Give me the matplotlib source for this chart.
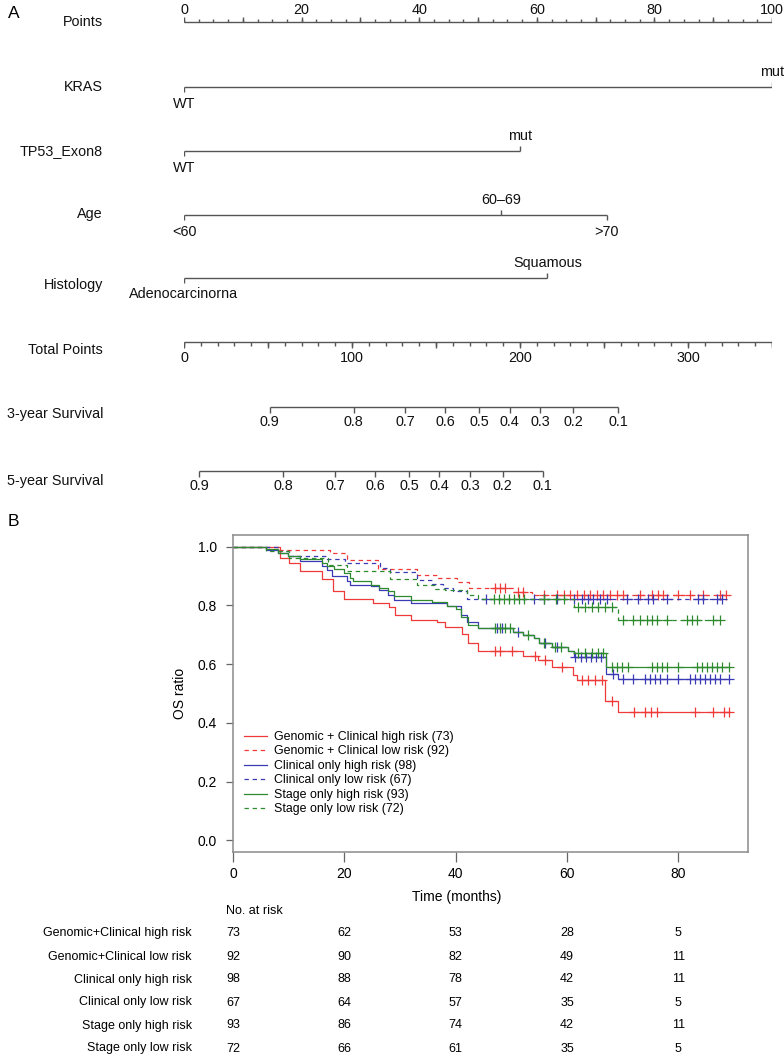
import numpy as np
import matplotlib
matplotlib.use("Agg")
import matplotlib.pyplot as plt
from matplotlib import transforms

plt.rcParams['font.family'] = ['Liberation Sans', 'DejaVu Sans']

W, H, DPI = 784, 1056, 100

# ---------------- Panel A: nomogram data ----------------
points_labels = [0, 20, 40, 60, 80, 100]
points_minor = np.arange(0, 100.01, 2.5)
points_major = np.arange(0, 100.01, 10)

kras_levels = ["WT", "mut"]
kras_points = [0, 100]
tp53_levels = ["WT", "mut"]
tp53_points = [0, 57.1]
age_levels = ["<60", "60\u201369", ">70"]
age_points = [0, 53.9, 71.9]
hist_levels = ["Adenocarcinorna", "Squamous"]
hist_points = [0, 61.8]

total_labels = [0, 100, 200, 300]
total_max = 350
surv_probs = [0.9, 0.8, 0.7, 0.6, 0.5, 0.4, 0.3, 0.2, 0.1]
surv3_total = [50.9, 100.9, 131.5, 155.4, 175.6, 193.8, 212.2, 231.5, 258.6]
surv5_total = [9.2, 59.2, 89.9, 113.7, 134.2, 152.0, 170.5, 189.6, 213.4]

# ---------------- Panel B: KM data (months, survival) ----------------
gc_high_t = [8.4, 10.1, 12.0, 16.0, 18.0, 19.9, 25.2, 28.0, 29.1, 32.0, 36.7, 38.1, 41.2, 42.2, 44.0,
             52.1, 54.8, 57.3, 61.1, 61.8, 66.8, 69.1]
gc_high_s = [0.962, 0.945, 0.918, 0.89, 0.85, 0.822, 0.808, 0.795, 0.768, 0.752, 0.742, 0.728, 0.703, 0.673, 0.646,
             0.628, 0.614, 0.589, 0.562, 0.545, 0.476, 0.437]
gc_high_c = [47.1, 48.0, 50.1, 54.3, 56.0, 59.1, 62.6, 63.8, 65.0, 66.3, 68.0, 72.1, 74.0, 75.1, 76.1,
             83.0, 86.2, 88.1, 89.0]

gc_low_t = [8.1, 17.4, 20.4, 26.1, 33.0, 36.6, 40.2, 42.3, 50.3, 53.7]
gc_low_s = [0.99, 0.978, 0.956, 0.925, 0.904, 0.892, 0.881, 0.858, 0.847, 0.836]
gc_low_c = [47.1, 48.0, 48.9, 51.2, 52.1, 55.8, 58.2, 59.4, 60.6, 61.8, 63.0, 64.2, 65.4, 66.5, 67.7, 68.9,
            70.1, 73.1, 75.2, 76.4, 77.3, 80.0, 82.1, 84.5, 87.5, 88.5]

cl_high_t = [5.9, 8.1, 9.9, 12.0, 16.0, 16.9, 17.8, 20.4, 21.0, 24.7, 26.2, 27.9, 28.9, 31.9, 38.5, 41.0,
             42.0, 44.0, 50.3, 52.0, 54.0, 55.0, 57.3, 60.2, 61.2, 67.0, 69.2]
cl_high_s = [0.99, 0.98, 0.97, 0.95, 0.933, 0.921, 0.899, 0.882, 0.87, 0.865, 0.853, 0.836, 0.82, 0.807, 0.799, 0.768,
             0.745, 0.723, 0.711, 0.70, 0.689, 0.673, 0.66, 0.646, 0.626, 0.568, 0.551]
cl_high_c = [47.4, 48.3, 51.2, 56.0, 58.2, 61.5, 62.5, 63.4, 64.3, 65.2, 66.1, 68.2, 70.1, 71.9, 74.0, 74.9,
             75.8, 76.7, 77.9, 80.0, 82.1, 83.0, 83.9, 84.8, 85.7, 86.6, 87.5, 89.0]

cl_low_t = [8.1, 10.0, 16.9, 20.2, 26.4, 28.2, 33.0, 35.7, 37.8, 39.6, 42.0]
cl_low_s = [0.985, 0.97, 0.958, 0.944, 0.927, 0.913, 0.885, 0.874, 0.858, 0.85, 0.821]
cl_low_c = [45.5, 54.0, 55.8, 58.2, 61.2, 62.7, 63.8, 64.7, 65.9, 67.1, 70.7, 72.8, 74.6, 75.5, 77.9, 83.6,
            84.5, 86.9, 87.8]

st_high_t = [5.9, 8.1, 9.9, 12.0, 16.0, 16.9, 18.1, 20.0, 21.0, 21.5, 24.7, 26.2, 27.9, 28.9, 31.9, 35.8,
             38.5, 40.0, 41.0, 42.2, 44.0, 50.3, 52.0, 54.0, 55.0, 57.3, 60.2, 61.2, 67.0]
st_high_s = [0.992, 0.98, 0.97, 0.959, 0.945, 0.933, 0.925, 0.911, 0.894, 0.882, 0.87, 0.861, 0.85, 0.833, 0.82, 0.813,
             0.799, 0.788, 0.762, 0.734, 0.723, 0.711, 0.70, 0.689, 0.673, 0.66, 0.646, 0.638, 0.591]
st_high_c = [47.1, 48.0, 48.9, 49.8, 53.0, 55.9, 57.8, 59.0, 62.0, 63.2, 64.4, 65.6, 66.5, 68.0, 69.0, 69.8,
             71.0, 75.2, 76.1, 77.0, 77.9, 80.0, 83.3, 84.2, 85.1, 86.0, 86.9, 87.8, 89.0]

st_low_t = [5.9, 10.0, 17.0, 20.4, 28.2, 33.0, 36.3, 38.1, 42.0, 44.0, 61.2, 69.2]
st_low_s = [0.986, 0.96, 0.938, 0.916, 0.89, 0.868, 0.857, 0.851, 0.836, 0.821, 0.796, 0.751]
st_low_c = [46.8, 47.7, 48.6, 49.5, 50.4, 51.3, 52.2, 55.8, 58.0, 59.5, 62.0, 63.3, 64.5, 65.6, 66.8, 68.0,
            70.1, 71.9, 73.1, 74.3, 75.2, 76.1, 77.9, 81.5, 82.4, 83.3, 86.3, 87.5]

legend_labels = ["Genomic + Clinical high risk (73)", "Genomic + Clinical low risk (92)",
                 "Clinical only high risk (98)", "Clinical only low risk (67)",
                 "Stage only high risk (93)", "Stage only low risk (72)"]

risk_times = [0, 20, 40, 60, 80]
risk_rows = ["Genomic+Clinical high risk", "Genomic+Clinical low risk", "Clinical only high risk",
             "Clinical only low risk", "Stage only high risk", "Stage only low risk"]
risk_gc_high = [73, 62, 53, 28, 5]
risk_gc_low = [92, 90, 82, 49, 11]
risk_cl_high = [98, 88, 78, 42, 11]
risk_cl_low = [67, 64, 57, 35, 5]
risk_st_high = [93, 86, 74, 42, 11]
risk_st_low = [72, 66, 61, 35, 5]

RED, BLUE, GREEN = '#f03a3a', '#3a3ab4', '#2e8a2e'

fig = plt.figure(figsize=(W / DPI, H / DPI), dpi=DPI)

def fy(py):
    return 1 - py / H

# ---------------- Panel A ----------------
TOP_H = 500
rect = [184 / W, 1 - TOP_H / H, 588 / W, TOP_H / H]
axN = fig.add_axes(rect)
axN.set_xlim(0, 100)
axN.set_ylim(TOP_H, 0)
axN.axis('off')
axT = fig.add_axes(rect, label='total')
axT.set_xlim(0, total_max)
axT.set_ylim(TOP_H, 0)
axT.axis('off')

LC = '#555555'
LW = 1.0
FS = 10.4
name_tr = transforms.blended_transform_factory(fig.transFigure, axN.transData)

def name(txt, y):
    axN.text(103 / W, y, txt, transform=name_tr, ha='right', va='center', fontsize=FS, color='#111111')

# Points axis
ROW_P = 22
axN.hlines(ROW_P, 0, 100, color=LC, lw=LW)
axN.vlines(points_minor, ROW_P - 2.8, ROW_P, color=LC, lw=LW)
axN.vlines(points_major, ROW_P - 5.5, ROW_P, color=LC, lw=LW)
for p in points_labels:
    axN.text(p, 9.5, str(p), ha='center', va='center', fontsize=FS, color='#111111', clip_on=False)
name("Points", 22)

def factor_row(levels, pts, row, nm, nm_y):
    axN.hlines(row, min(pts), max(pts), color=LC, lw=LW)
    for i, (lev, p) in enumerate(zip(levels, pts)):
        below = (i % 2 == 0)
        if below:
            axN.vlines(p, row, row + 5, color=LC, lw=LW)
            axN.text(p, row + 16.5, lev, ha='center', va='center', fontsize=FS, color='#111111', clip_on=False)
        else:
            axN.vlines(p, row - 5, row, color=LC, lw=LW)
            axN.text(p, row - 15.5, lev, ha='center', va='center', fontsize=FS, color='#111111', clip_on=False)
    name(nm, nm_y)

factor_row(kras_levels, kras_points, 87, "KRAS", 87)
factor_row(tp53_levels, tp53_points, 151, "TP53_Exon8", 151)
factor_row(age_levels, age_points, 215, "Age", 214)
factor_row(hist_levels, hist_points, 278, "Histology", 285)

# Total points axis
ROW_T = 342
axT.hlines(ROW_T, 0, total_max, color=LC, lw=LW)
tminor = np.arange(0, total_max + 0.1, 10)
tmajor = np.arange(0, total_max + 0.1, 50)
axT.vlines(tminor, ROW_T, ROW_T + 4.4, color=LC, lw=LW)
axT.vlines(tmajor, ROW_T, ROW_T + 6, color=LC, lw=LW)
for t in total_labels:
    axT.text(t, 358, str(t), ha='center', va='center', fontsize=FS, color='#111111', clip_on=False)
name("Total Points", 350)

def surv_row(tot, row, nm, nm_y):
    axT.hlines(row, min(tot), max(tot), color=LC, lw=LW)
    axT.vlines(tot, row, row + 5.5, color=LC, lw=LW)
    for p, t in zip(surv_probs, tot):
        axT.text(t, row + 15.5, f"{p:.1f}", ha='center', va='center', fontsize=FS, color='#111111', clip_on=False)
    name(nm, nm_y)

surv_row(surv3_total, 407, "3-year Survival", 414)
surv_row(surv5_total, 471, "5-year Survival", 481)

fig.text(8 / W, fy(14), "A", ha='left', va='center', fontsize=12.5)
fig.text(8 / W, fy(521), "B", ha='left', va='center', fontsize=12.5)

# ---------------- Panel B ----------------
axB = fig.add_axes([233 / W, 1 - 852 / H, 515 / W, 317 / H])
axB.set_xlim(0, 92.5)
axB.set_ylim(-0.04, 1.04)
for sp in axB.spines.values():
    sp.set_color('#8a8a8a')
    sp.set_linewidth(1.1)
axB.set_xticks(risk_times)
axB.set_yticks([0.0, 0.2, 0.4, 0.6, 0.8, 1.0])
axB.set_yticklabels(["0.0", "0.2", "0.4", "0.6", "0.8", "1.0"])
axB.tick_params(axis='x', length=7, width=0.9, color='#666666', pad=4, labelsize=10)
axB.tick_params(axis='y', length=5, width=0.9, color='#666666', pad=6.5, labelsize=10)
fig.text(180 / W, fy(693), "OS ratio", rotation=90, ha='center', va='center', fontsize=10)

groups = [
    (gc_high_t, gc_high_s, gc_high_c, RED, '-'),
    (gc_low_t, gc_low_s, gc_low_c, RED, (0, (3.5, 3))),
    (cl_high_t, cl_high_s, cl_high_c, BLUE, '-'),
    (cl_low_t, cl_low_s, cl_low_c, BLUE, (0, (3.5, 3))),
    (st_high_t, st_high_s, st_high_c, GREEN, '-'),
    (st_low_t, st_low_s, st_low_c, GREEN, (0, (3.5, 3))),
]
handles = []
for (et, es, ce, col, ls), lab in zip(groups, legend_labels):
    end = max(max(ce), max(et))
    tt = [0] + list(et) + [end]
    ss = [1.0] + list(es) + [es[-1]]
    h, = axB.step(tt, ss, where='post', color=col, lw=0.9, ls=ls, label=lab)
    handles.append(h)
    et_arr = np.array(et)
    svals = np.array([1.0] + list(es))
    cy = svals[np.searchsorted(et_arr, ce, side='right')]
    axB.plot(ce, cy, ls='none', marker='+', ms=7, mew=0.9, color=col)

axB.legend(handles=handles, loc='upper left', bbox_to_anchor=(244 / W, fy(731)),
           bbox_transform=fig.transFigure, frameon=False, fontsize=8.9, handlelength=1.9,
           handletextpad=0.5, labelspacing=0.2, borderpad=0, borderaxespad=0)

fig.text(457 / W, fy(897), "Time (months)", ha='center', va='center', fontsize=10)

# Risk table
tr = transforms.blended_transform_factory(axB.transData, fig.transFigure)
fig.text(226 / W, fy(911), "No. at risk", ha='left', va='center', fontsize=9)
row_vals = [risk_gc_high, risk_gc_low, risk_cl_high, risk_cl_low, risk_st_high, risk_st_low]
row_y = [933, 956.5, 979.5, 1002.5, 1025.5, 1048.5]
for lab, vals, y in zip(risk_rows, row_vals, row_y):
    fig.text(192 / W, fy(y), lab, ha='right', va='center', fontsize=9)
    for t, v in zip(risk_times, vals):
        fig.text(t, fy(y), str(v), transform=tr, ha='center', va='center', fontsize=9)

fig.savefig("out.png", dpi=DPI)
